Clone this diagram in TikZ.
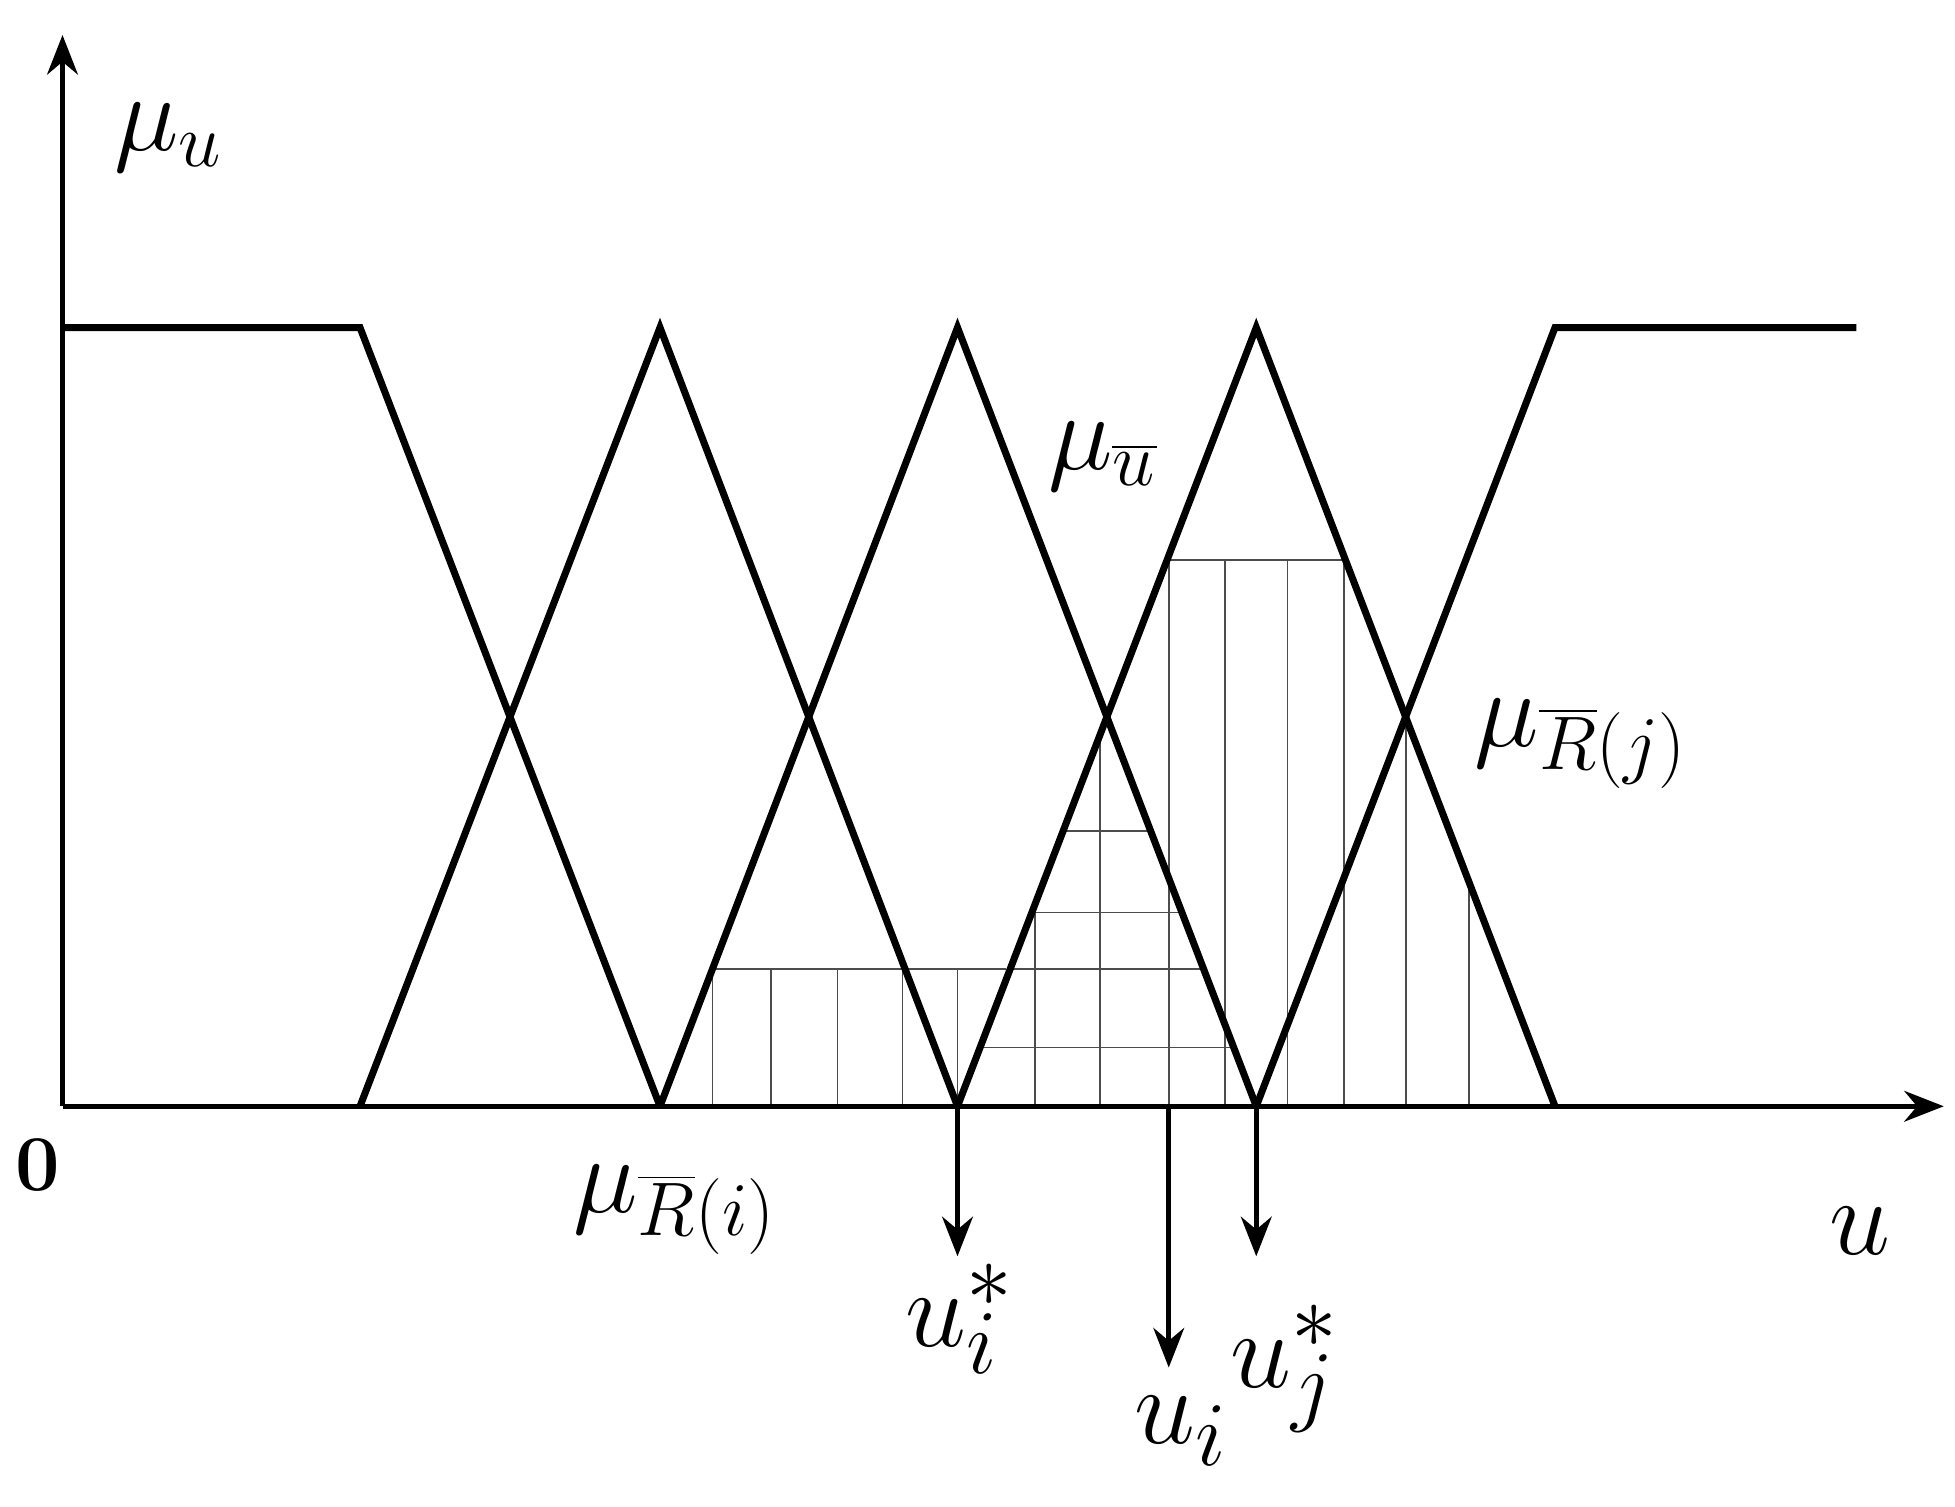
\documentclass[tikz,border=0pt]{standalone}
\usetikzlibrary{arrows.meta}
\begin{document}
\begin{tikzpicture}[x=0.01cm,y=-0.01cm,
  mf/.style={line width=1.6pt,line join=miter},
  hatch/.style={line width=0.4pt,draw=black!70},
  ax/.style={line width=1.1pt,-{Stealth[length=9pt,width=7pt]}},
  lab/.style={inner sep=0pt}]
\useasboundingbox (0,0) rectangle (1564,1205);
% hatch region A (vertical)
\begin{scope}
\clip (528,885)--(570,775)--(963,775)--(1005,885)--cycle;
\foreach \x in {570,617,670,722,766} \draw[hatch] (\x,885)--(\x,775);
\end{scope}
\draw[hatch] (570,775)--(805,775);
% region C (vertical)
\begin{scope}
\clip (766,885)--(936,448)--(1074,448)--(1244,885)--cycle;
\foreach \x in {828,880,935,980,1030,1075,1125,1175} \draw[hatch] (\x,885)--(\x,400);
\end{scope}
\draw[hatch] (936,448)--(1074,448);
% region B (horizontal)
\begin{scope}
\clip (766,885)--(885,575)--(1005,885)--cycle;
\foreach \y in {838,775,730,665} \draw[hatch] (700,\y)--(1100,\y);
\end{scope}
% axes
\coordinate (O) at (50,885);
\coordinate (Ytop) at (50,28);
\coordinate (Xend) at (1555,885);
\draw[ax] (O)--(Ytop);
\draw[ax] (O)--(Xend);
% membership functions
\draw[mf] (50,262)--(288,262)--(528,885);
\draw[mf] (288,885)--(528,262)--(766,885);
\draw[mf] (528,885)--(766,262)--(1005,885);
\draw[mf] (766,885)--(1005,262)--(1244,885);
\draw[mf] (1005,885)--(1244,262)--(1485,262);
% output arrows
\coordinate (a1) at (766,885); \coordinate (b1) at (766,1005);
\coordinate (a2) at (935,885); \coordinate (b2) at (935,1094);
\coordinate (a3) at (1005,885); \coordinate (b3) at (1005,1005);
\draw[ax] (a1)--(b1);
\draw[ax] (a2)--(b2);
\draw[ax] (a3)--(b3);
% labels
\node[lab] (mu) at (135,110) {\fontsize{26}{30}\selectfont $\mu_u$};
\node[lab] (mub) at (882,365) {\fontsize{24}{28}\selectfont $\mu_{\overline{u}}$};
\node[lab] (muRj) at (1265,595) {\fontsize{24}{28}\selectfont $\mu_{\overline{R}(j)}$};
\node[lab] (muRi) at (540,968) {\fontsize{24}{28}\selectfont $\mu_{\overline{R}(i)}$};
\node[lab] (zero) at (30,932) {\fontsize{18}{20}\selectfont\bfseries 0};
\node[lab] (u) at (1488,985) {\fontsize{62}{66}\selectfont $u$};
\node[lab] (uis) at (768,1055) {\fontsize{28}{32}\selectfont $u_i^*$};
\node[lab] (ui) at (945,1145) {\fontsize{28}{32}\selectfont $u_i$};
\node[lab] (ujs) at (1028,1095) {\fontsize{28}{32}\selectfont $u_j^*$};
\end{tikzpicture}
\end{document}
